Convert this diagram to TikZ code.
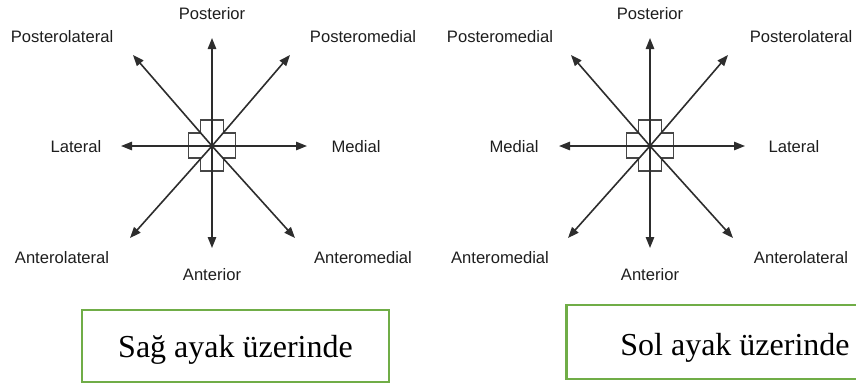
\documentclass[tikz,border=0pt]{standalone}
\usepackage{fontspec}
\setmainfont{Liberation Serif}
\setsansfont{Liberation Sans}
\usetikzlibrary{arrows.meta}
\definecolor{axgray}{RGB}{45,45,45}
\definecolor{labgray}{RGB}{30,30,30}
\definecolor{crossgray}{RGB}{70,70,70}
\definecolor{boxgreen}{RGB}{112,173,71}
\tikzset{
  dirarrow/.style={line width=0.8pt, draw=axgray, -{Triangle[length=5.5pt,width=4.2pt]}},
  dirlabel/.style={font=\sffamily\fontsize{8.3}{10}\selectfont, text=labgray, anchor=base, inner sep=0pt},
  footbox/.style={draw=boxgreen, line width=1.3pt, inner sep=0pt},
  boxtext/.style={font=\fontsize{16}{19}\selectfont, anchor=base, inner sep=0pt}
}

\begin{document}
\begin{tikzpicture}[x=0.5pt,y=-0.5pt]
\useasboundingbox (0,0) rectangle (856,387);

% Direction stars (left foot, right foot)
\foreach \pre/\cx/\west/\east/\nwest/\neast/\swest/\seast in {
    L/212/Lateral/Medial/Posterolateral/Posteromedial/Anterolateral/Anteromedial,
    R/650/Medial/Lateral/Posteromedial/Posterolateral/Anteromedial/Anterolateral} {
  \begin{scope}[shift={(\cx,146)}]
    \coordinate (\pre c) at (0,0);
    % arrow tips
    \coordinate (\pre N) at (0,-108);
    \coordinate (\pre S) at (0,102);
    \coordinate (\pre W) at (-91,0);
    \coordinate (\pre E) at (95,0);
    \coordinate (\pre NW) at (-79,-91);
    \coordinate (\pre NE) at (78,-91);
    \coordinate (\pre SW) at (-82,92);
    \coordinate (\pre SE) at (83,92);

    % foot cross
    \draw[crossgray, line width=0.7pt] (-11.5,-26) -- (11.5,-26) -- (11.5,-13) -- (23.5,-13)
      -- (23.5,12) -- (11.5,12) -- (11.5,25) -- (-11.5,25) -- (-11.5,12) -- (-23.5,12)
      -- (-23.5,-13) -- (-11.5,-13) -- cycle;

    % arrows
    \foreach \d in {N,S,W,E,NW,NE,SW,SE} {
      \draw[dirarrow] (\pre c) -- (\pre\d);
    }

    % labels
    \node[dirlabel] (\pre-post) at (0,-127) {Posterior};
    \node[dirlabel] (\pre-ant) at (0,134) {Anterior};
    \node[dirlabel] (\pre-west) at (-136,6) {\west};
    \node[dirlabel] (\pre-east) at (144,6) {\east};
    \node[dirlabel] (\pre-nwest) at (-150,-104) {\nwest};
    \node[dirlabel] (\pre-neast) at (151,-104) {\neast};
    \node[dirlabel] (\pre-swest) at (-150,117) {\swest};
    \node[dirlabel] (\pre-seast) at (151,117) {\seast};
  \end{scope}
}

% Foot boxes
\node[footbox, minimum width=153.5pt, minimum height=36pt] (sagbox) at (235.5,346) {};
\node[boxtext] (sagtext) at (235.5,357) {Sağ ayak üzerinde};
\node[footbox, minimum width=150pt, minimum height=37pt, anchor=west] (solbox) at (565,342) {};
\node[boxtext] (soltext) at (735,355) {Sol ayak üzerinde};
\end{tikzpicture}
\end{document}
